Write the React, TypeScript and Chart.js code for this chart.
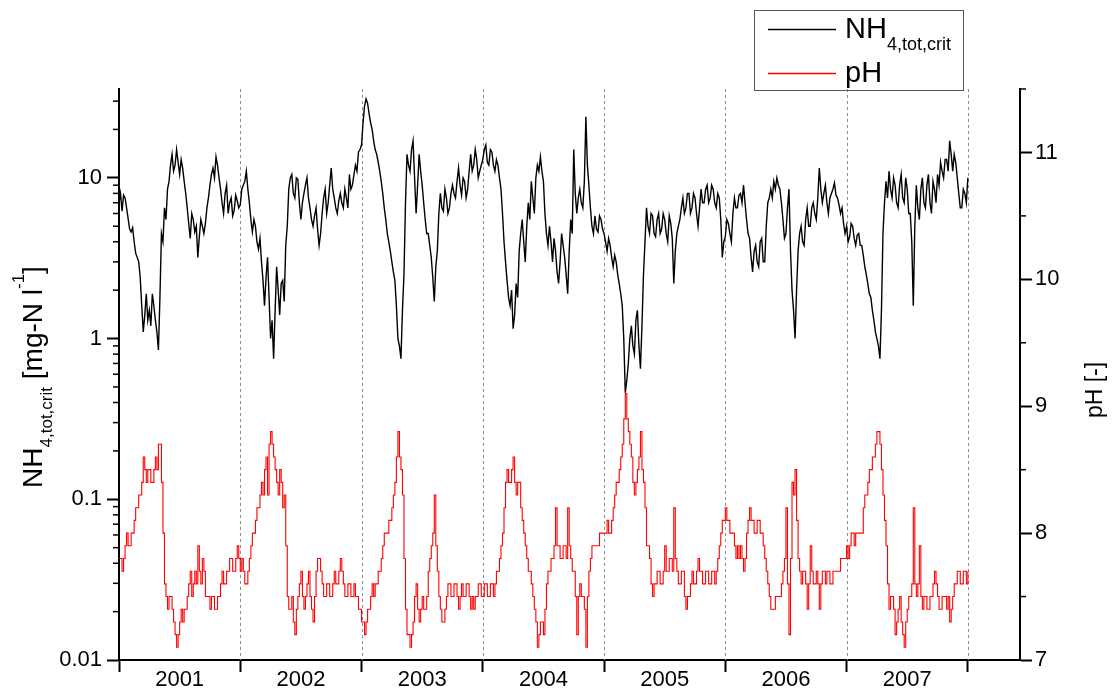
import { useEffect, useRef } from "react";
import { Chart, registerables } from "chart.js";

Chart.register(...registerables);

const FONT = "'Liberation Sans', Arial, Helvetica, sans-serif";

// Sampling: each yearly array holds values at year + i / SAMPLES_PER_YEAR
const SAMPLES_PER_YEAR = 80;
const years = [2001, 2002, 2003, 2004, 2005, 2006, 2007];
const yearLabels = ["2001", "2002", "2003", "2004", "2005", "2006", "2007"];
const yearBoundaries = [2001, 2002, 2003, 2004, 2005, 2006, 2007, 2008];

// NH4,tot,crit [mg-N/l]
const nh4_2001 = [7.0, 8.0, 6.2, 7.8, 7.5, 6.5, 5.6, 4.8, 4.6, 4.9, 4.0, 3.4, 3.2, 3.0, 2.4, 1.6, 1.1, 1.4, 1.9, 1.3, 1.5, 1.2, 1.9, 1.6, 1.3, 1.1, 0.85, 1.8, 4.5, 4.0, 6.5, 5.5, 8.5, 9.5, 12, 14, 11, 12, 15, 12.5, 10.5, 13, 11.5, 9.5, 8.0, 6.5, 5.2, 4.2, 6.0, 5.5, 4.6, 5.0, 3.2, 4.3, 5.5, 5.0, 4.5, 5.2, 6.5, 7.5, 9.0, 10.5, 11.5, 10, 13.5, 12, 10.0, 8.5, 7.0, 6.0, 8.0, 9.0, 6.0, 7.0, 7.5, 5.8, 6.3, 7.8, 7.2, 6.5];
const nh4_2002 = [6.8, 8.5, 9.0, 9.5, 11.0, 8.5, 7.0, 5.5, 4.6, 5.5, 5.0, 4.0, 3.6, 4.2, 3.0, 2.3, 1.6, 2.4, 3.2, 1.8, 1.0, 1.3, 0.75, 1.5, 2.8, 2.0, 1.4, 2.2, 2.3, 1.7, 3.8, 5.0, 8.5, 10, 10.5, 8.0, 7.5, 10, 9.8, 7.0, 5.5, 7.0, 8.0, 9.0, 10.0, 7.5, 6.5, 5.5, 5.0, 5.8, 6.5, 4.8, 3.8, 4.5, 6.0, 7.5, 8.5, 6.0, 7.0, 9.0, 11.5, 8.5, 7.5, 6.5, 6.0, 7.2, 8.0, 7.0, 6.5, 8.5, 7.5, 6.5, 10.5, 8.5, 9.0, 10.5, 12.0, 11, 14.5, 15];
const nh4_2003 = [16, 22, 28, 31, 29, 25, 22, 20, 17, 15, 14, 12.5, 11, 9.5, 8.0, 6.5, 5.5, 4.5, 4.0, 3.5, 3.0, 2.6, 2.3, 1.6, 1.0, 0.9, 0.75, 1.5, 2.5, 7.0, 14, 12, 11, 15, 17, 10, 6.0, 9.0, 14, 11, 9.0, 7.0, 5.5, 4.5, 4.5, 3.8, 3.2, 2.4, 1.7, 2.8, 3.5, 6.0, 8.0, 6.5, 6.2, 8.5, 7.5, 6.0, 6.5, 8.0, 9.0, 8.0, 7.5, 9.5, 11.5, 9.0, 7.8, 10, 9.5, 7.5, 8.5, 11, 14, 11, 12, 15, 13, 10, 11, 12];
const nh4_2004 = [13, 15, 16, 12.5, 12, 15, 14.5, 12, 11, 13, 12, 10, 8.5, 6.0, 4.0, 3.0, 2.3, 1.8, 1.6, 2.0, 1.15, 1.4, 2.2, 1.8, 3.5, 4.5, 5.5, 4.0, 3.0, 5.0, 7.0, 5.5, 9.5, 7.5, 6.0, 10, 12, 11, 13.5, 11, 9.5, 6.0, 4.5, 3.8, 5.0, 4.0, 3.0, 4.2, 3.5, 2.6, 2.2, 3.0, 4.5, 3.8, 3.2, 2.5, 1.9, 3.5, 5.5, 4.5, 15, 8.0, 6.0, 7.5, 8.5, 7.0, 6.5, 9.5, 24, 12, 9.0, 6.5, 5.0, 4.5, 5.8, 4.8, 4.6, 5.8, 5.5, 4.8];
const nh4_2005 = [4.5, 4.0, 3.5, 4.2, 3.8, 3.2, 2.8, 3.3, 3.0, 2.5, 2.2, 1.9, 1.6, 1.0, 0.46, 0.55, 0.7, 1.0, 1.2, 0.9, 0.8, 1.3, 1.5, 0.9, 0.65, 1.2, 2.5, 4.0, 6.5, 5.0, 4.5, 6.0, 5.8, 4.5, 4.3, 5.5, 6.0, 4.5, 4.8, 6.0, 5.5, 4.5, 4.0, 5.8, 5.2, 4.2, 2.2, 3.5, 4.5, 5.0, 5.5, 6.5, 7.5, 6.0, 6.5, 8.0, 8.0, 6.0, 6.5, 8.0, 7.5, 6.0, 5.0, 6.5, 8.5, 7.0, 7.0, 8.5, 9.0, 7.0, 7.5, 9.0, 8.5, 7.0, 6.5, 8.0, 7.5, 5.5, 3.2, 4.0];
const nh4_2006 = [4.3, 5.5, 5.2, 4.5, 4.0, 6.0, 7.5, 6.5, 6.5, 7.8, 8.0, 7.0, 9.0, 7.0, 5.5, 4.5, 4.2, 3.2, 2.6, 3.5, 3.8, 3.0, 2.8, 4.0, 4.2, 3.0, 3.0, 5.0, 7.0, 7.5, 8.5, 7.5, 9.5, 8.5, 10, 9.0, 8.5, 7.0, 5.5, 4.2, 4.5, 6.5, 8.5, 3.5, 2.0, 1.5, 1.0, 2.0, 3.5, 4.5, 5.0, 4.0, 3.8, 5.5, 6.5, 5.0, 5.0, 6.5, 7.0, 6.0, 5.5, 7.5, 11.5, 8.5, 7.0, 8.0, 9.0, 7.0, 6.0, 7.5, 8.0, 8.5, 9.3, 7.8, 7.5, 6.8, 6.0, 6.5, 5.2, 4.5];
const nh4_2007 = [5.0, 4.0, 4.3, 5.2, 5.0, 4.2, 3.8, 4.4, 4.5, 3.8, 3.8, 3.3, 2.8, 2.5, 2.2, 1.9, 1.8, 1.5, 1.3, 1.1, 1.0, 0.9, 0.75, 1.5, 4.5, 7.0, 9.5, 7.5, 11, 8.5, 7.5, 10, 9.0, 7.0, 6.5, 9.0, 10.5, 7.5, 7.0, 10, 8.5, 6.0, 6.0, 4.0, 1.6, 5.0, 9.0, 6.5, 5.5, 8.5, 10, 7.0, 6.5, 9.0, 10.5, 7.0, 6.0, 9.5, 8.5, 7.0, 10.5, 9.0, 12.5, 11, 10, 13, 13, 11, 17, 14, 11, 14, 12.5, 10, 8.0, 6.5, 6.5, 8.5, 8.0, 7.0, 10];

// pH [-]
const ph_2001 = [7.8, 7.8, 7.7, 7.8, 7.9, 8.0, 7.9, 7.9, 8.0, 8.0, 8.1, 8.2, 8.2, 8.3, 8.3, 8.4, 8.6, 8.5, 8.4, 8.5, 8.5, 8.4, 8.4, 8.5, 8.6, 8.5, 8.7, 8.7, 8.4, 8.0, 7.6, 7.5, 7.4, 7.5, 7.5, 7.4, 7.3, 7.2, 7.1, 7.2, 7.3, 7.4, 7.3, 7.4, 7.4, 7.5, 7.6, 7.7, 7.5, 7.6, 7.7, 7.6, 7.9, 7.7, 7.6, 7.8, 7.7, 7.5, 7.5, 7.5, 7.4, 7.5, 7.5, 7.4, 7.4, 7.5, 7.5, 7.6, 7.7, 7.6, 7.6, 7.7, 7.7, 7.8, 7.8, 7.7, 7.7, 7.8, 7.9, 7.8];
const ph_2002 = [7.7, 7.8, 7.7, 7.6, 7.6, 7.7, 7.8, 7.9, 8.0, 8.0, 8.1, 8.2, 8.2, 8.3, 8.4, 8.3, 8.5, 8.6, 8.3, 8.7, 8.8, 8.7, 8.6, 8.5, 8.4, 8.3, 8.5, 8.4, 8.2, 8.3, 7.9, 7.5, 7.4, 7.4, 7.5, 7.3, 7.2, 7.4, 7.5, 7.6, 7.7, 7.5, 7.4, 7.5, 7.6, 7.7, 7.5, 7.4, 7.3, 7.5, 7.7, 7.8, 7.8, 7.7, 7.6, 7.5, 7.5, 7.6, 7.6, 7.5, 7.5, 7.6, 7.7, 7.6, 7.6, 7.7, 7.8, 7.7, 7.6, 7.5, 7.5, 7.6, 7.6, 7.5, 7.5, 7.6, 7.5, 7.5, 7.4, 7.4];
const ph_2003 = [7.3, 7.3, 7.2, 7.3, 7.4, 7.4, 7.5, 7.6, 7.5, 7.6, 7.6, 7.7, 7.7, 7.8, 7.9, 8.0, 8.0, 8.0, 8.1, 8.1, 8.2, 8.3, 8.4, 8.6, 8.8, 8.6, 8.5, 8.3, 7.8, 7.4, 7.2, 7.2, 7.1, 7.2, 7.3, 7.5, 7.6, 7.4, 7.3, 7.4, 7.5, 7.4, 7.4, 7.5, 7.7, 7.8, 7.9, 8.0, 8.3, 7.9, 7.7, 7.5, 7.4, 7.3, 7.3, 7.4, 7.5, 7.6, 7.6, 7.5, 7.5, 7.6, 7.6, 7.5, 7.4, 7.5, 7.6, 7.5, 7.5, 7.6, 7.6, 7.5, 7.4, 7.5, 7.4, 7.5, 7.5, 7.6, 7.6, 7.5];
const ph_2004 = [7.5, 7.6, 7.6, 7.5, 7.5, 7.6, 7.6, 7.5, 7.6, 7.7, 7.7, 7.8, 7.9, 8.0, 8.2, 8.4, 8.5, 8.4, 8.4, 8.5, 8.6, 8.4, 8.3, 8.4, 8.4, 8.2, 8.1, 8.0, 7.9, 7.8, 7.7, 7.7, 7.6, 7.5, 7.4, 7.3, 7.1, 7.2, 7.3, 7.3, 7.2, 7.4, 7.6, 7.7, 7.7, 7.8, 7.8, 7.9, 8.2, 7.9, 7.9, 7.8, 7.8, 7.9, 7.9, 7.8, 8.2, 7.9, 7.8, 7.7, 7.7, 7.5, 7.2, 7.5, 7.6, 7.5, 7.5, 7.4, 7.1, 7.5, 7.7, 7.8, 7.9, 7.9, 7.9, 7.9, 7.9, 8.0, 8.0, 8.0];
const ph_2005 = [8.0, 8.0, 8.1, 8.0, 8.0, 8.1, 8.2, 8.3, 8.4, 8.4, 8.5, 8.6, 8.7, 8.9, 9.1, 8.9, 8.8, 8.7, 8.6, 8.4, 8.3, 8.4, 8.5, 8.6, 8.8, 8.5, 8.4, 8.2, 7.9, 7.9, 7.8, 7.6, 7.5, 7.6, 7.6, 7.7, 7.7, 7.6, 7.6, 7.7, 7.9, 7.7, 7.7, 7.8, 7.8, 7.7, 8.2, 7.8, 7.7, 7.6, 7.6, 7.7, 7.7, 7.5, 7.4, 7.5, 7.5, 7.6, 7.7, 7.6, 7.6, 7.7, 7.8, 7.7, 7.7, 7.6, 7.6, 7.7, 7.7, 7.6, 7.6, 7.7, 7.7, 7.6, 7.7, 7.8, 7.9, 8.0, 8.1, 8.1];
const ph_2006 = [8.2, 8.1, 8.1, 8.0, 8.0, 8.0, 7.9, 7.8, 7.9, 7.8, 7.9, 7.8, 7.7, 7.8, 8.0, 8.1, 8.2, 8.1, 8.1, 8.0, 8.0, 8.1, 8.1, 8.0, 8.0, 7.9, 7.8, 7.7, 7.6, 7.5, 7.4, 7.4, 7.4, 7.5, 7.5, 7.5, 7.5, 7.6, 7.7, 7.8, 8.2, 7.6, 7.2, 7.8, 8.4, 8.3, 8.5, 8.1, 7.8, 7.7, 7.6, 7.7, 7.7, 7.6, 7.4, 7.6, 7.9, 7.7, 7.6, 7.6, 7.7, 7.6, 7.4, 7.6, 7.7, 7.7, 7.6, 7.7, 7.7, 7.6, 7.6, 7.7, 7.7, 7.7, 7.7, 7.7, 7.8, 7.8, 7.8, 7.8];
const ph_2007 = [7.9, 7.8, 7.9, 8.0, 8.0, 7.9, 8.0, 8.0, 8.0, 8.0, 8.0, 8.2, 8.3, 8.3, 8.4, 8.5, 8.5, 8.6, 8.6, 8.7, 8.8, 8.8, 8.7, 8.5, 8.3, 8.1, 7.9, 7.6, 7.4, 7.5, 7.5, 7.4, 7.2, 7.3, 7.4, 7.5, 7.3, 7.2, 7.1, 7.3, 7.4, 7.5, 7.5, 7.6, 8.2, 7.6, 7.5, 7.6, 7.9, 7.5, 7.4, 7.5, 7.5, 7.4, 7.4, 7.5, 7.5, 7.6, 7.7, 7.6, 7.5, 7.4, 7.4, 7.5, 7.5, 7.5, 7.4, 7.5, 7.3, 7.4, 7.5, 7.6, 7.6, 7.7, 7.7, 7.6, 7.6, 7.7, 7.7, 7.6, 7.7];

// Axis ranges and ticks
const xRange = [2001, 2008.43];
const nh4Range = [0.01, 35.7];
const phRange = [7, 11.5];
const nh4MajorTicks = [0.01, 0.1, 1, 10];
const nh4MinorTicks = [0.02, 0.03, 0.04, 0.05, 0.06, 0.07, 0.08, 0.09, 0.2, 0.3, 0.4, 0.5, 0.6, 0.7, 0.8, 0.9, 2, 3, 4, 5, 6, 7, 8, 9, 20, 30];
const phMajorTicks = [7, 8, 9, 10, 11];
const phMinorTicks = [7.5, 8.5, 9.5, 10.5, 11.5];

type Pt = { x: number; y: number };

function toPoints(perYear: number[][]): Pt[] {
  const pts: Pt[] = [];
  perYear.forEach((vals, k) => {
    vals.forEach((v, i) => pts.push({ x: years[k] + i / SAMPLES_PER_YEAR, y: v }));
  });
  return pts;
}

const nh4Points = toPoints([nh4_2001, nh4_2002, nh4_2003, nh4_2004, nh4_2005, nh4_2006, nh4_2007]);
const phPoints = toPoints([ph_2001, ph_2002, ph_2003, ph_2004, ph_2005, ph_2006, ph_2007]);

// x ticks: year boundaries carry tick marks, mid-year positions carry labels
const xTickValues: number[] = [];
yearBoundaries.forEach((y, i) => {
  xTickValues.push(y);
  if (i < years.length) xTickValues.push(y + 0.5);
});

const isBoundary = (v: number) => Math.abs(v - Math.round(v)) < 1e-6;

type Run = { text: string; size: number; dy: number };

function runsWidth(ctx: CanvasRenderingContext2D, runs: Run[]) {
  let w = 0;
  for (const r of runs) {
    ctx.font = `${r.size}px ${FONT}`;
    w += ctx.measureText(r.text).width;
  }
  return w;
}

function drawRuns(ctx: CanvasRenderingContext2D, runs: Run[], x: number, y: number) {
  let cx = x;
  for (const r of runs) {
    ctx.font = `${r.size}px ${FONT}`;
    ctx.fillText(r.text, cx, y + r.dy);
    cx += ctx.measureText(r.text).width;
  }
}

const leftTitle: Run[] = [
  { text: "NH", size: 28, dy: 0 },
  { text: "4,tot,crit", size: 17, dy: 10 },
  { text: " [mg-N l", size: 28, dy: 0 },
  { text: "-1", size: 17, dy: -18 },
  { text: "]", size: 28, dy: 0 },
];
const rightTitle: Run[] = [{ text: "pH [-]", size: 23, dy: 0 }];
const legendNH4: Run[] = [
  { text: "NH", size: 29, dy: 0 },
  { text: "4,tot,crit", size: 18, dy: 12 },
];
const legendPH: Run[] = [{ text: "pH", size: 29, dy: 0 }];

const yearLinesPlugin = {
  id: "yearLines",
  beforeDatasetsDraw(chart: any) {
    const { ctx, chartArea } = chart;
    const xs = chart.scales.x;
    ctx.save();
    ctx.strokeStyle = "#8c8c8c";
    ctx.lineWidth = 1;
    ctx.setLineDash([3, 3]);
    for (const v of yearBoundaries.slice(1)) {
      const px = Math.round(xs.getPixelForValue(v)) + 0.5;
      ctx.beginPath();
      ctx.moveTo(px, chartArea.top);
      ctx.lineTo(px, chartArea.bottom);
      ctx.stroke();
    }
    ctx.restore();
  },
};

const decorPlugin = {
  id: "decor",
  afterDraw(chart: any) {
    const { ctx, chartArea } = chart;
    const yN = chart.scales.yN;
    const yP = chart.scales.yP;
    ctx.save();

    // minor ticks
    ctx.strokeStyle = "#000";
    ctx.lineWidth = 1.5;
    for (const v of nh4MinorTicks) {
      const py = yN.getPixelForValue(v);
      ctx.beginPath();
      ctx.moveTo(chartArea.left - 6, py);
      ctx.lineTo(chartArea.left, py);
      ctx.stroke();
    }
    for (const v of phMinorTicks) {
      const py = yP.getPixelForValue(v);
      ctx.beginPath();
      ctx.moveTo(chartArea.right, py);
      ctx.lineTo(chartArea.right + 6, py);
      ctx.stroke();
    }

    ctx.fillStyle = "#000";
    ctx.textBaseline = "alphabetic";
    ctx.textAlign = "left";

    // left axis title
    const lw = runsWidth(ctx, leftTitle);
    ctx.save();
    ctx.translate(42, 377 + lw / 2);
    ctx.rotate(-Math.PI / 2);
    drawRuns(ctx, leftTitle, 0, 0);
    ctx.restore();

    // right axis title
    const rw = runsWidth(ctx, rightTitle);
    ctx.save();
    ctx.translate(1102, 390 + rw / 2);
    ctx.rotate(-Math.PI / 2);
    drawRuns(ctx, rightTitle, 0, 0);
    ctx.restore();

    // legend
    ctx.strokeStyle = "#555555";
    ctx.lineWidth = 1;
    ctx.strokeRect(754.5, 10.5, 209, 80);
    ctx.lineWidth = 1.5;
    ctx.strokeStyle = "#000000";
    ctx.beginPath();
    ctx.moveTo(768, 29.5);
    ctx.lineTo(836, 29.5);
    ctx.stroke();
    ctx.strokeStyle = "#ff0000";
    ctx.beginPath();
    ctx.moveTo(768, 73.5);
    ctx.lineTo(836, 73.5);
    ctx.stroke();
    ctx.fillStyle = "#000";
    drawRuns(ctx, legendNH4, 845, 38);
    drawRuns(ctx, legendPH, 845, 82);

    ctx.restore();
  },
};

export default function App() {
  const canvasRef = useRef<HTMLCanvasElement>(null);

  useEffect(() => {
    const canvas = canvasRef.current;
    if (!canvas) return;
    const tickFont = { family: FONT, size: 22 };
    const chart = new Chart(canvas, {
      type: "line",
      data: {
        datasets: [
          {
            label: "NH4,tot,crit",
            data: nh4Points,
            yAxisID: "yN",
            borderColor: "#000000",
            borderWidth: 1.4,
            pointRadius: 0,
            tension: 0,
          },
          {
            label: "pH",
            data: phPoints,
            yAxisID: "yP",
            borderColor: "#ff0000",
            borderWidth: 1.1,
            pointRadius: 0,
            stepped: true,
          },
        ],
      },
      options: {
        responsive: false,
        animation: false,
        events: [],
        layout: { padding: { top: 89, left: 0, right: 0, bottom: 0 } },
        plugins: { legend: { display: false }, tooltip: { enabled: false } },
        scales: {
          x: {
            type: "linear",
            position: "bottom",
            min: xRange[0],
            max: xRange[1],
            afterBuildTicks: (s: any) => {
              s.ticks = xTickValues.map((v) => ({ value: v }));
            },
            afterFit: (s: any) => {
              s.height = 31;
            },
            ticks: {
              autoSkip: false,
              maxRotation: 0,
              padding: -5,
              color: "#000",
              font: tickFont,
              callback: (v: any) => {
                const n = Number(v);
                if (isBoundary(n)) return "";
                const idx = Math.floor(n) - years[0];
                return yearLabels[idx] ?? "";
              },
            },
            grid: {
              drawOnChartArea: false,
              drawTicks: true,
              tickLength: 12,
              tickWidth: 2,
              tickColor: (c: any) =>
                c.tick && isBoundary(c.tick.value) ? "#000" : "rgba(0,0,0,0)",
            },
            border: { display: true, color: "#000", width: 2 },
          },
          yN: {
            type: "logarithmic",
            position: "left",
            min: nh4Range[0],
            max: nh4Range[1],
            afterBuildTicks: (s: any) => {
              s.ticks = nh4MajorTicks.map((v) => ({ value: v }));
            },
            afterFit: (s: any) => {
              s.width = 119;
            },
            ticks: {
              autoSkip: false,
              padding: 5,
              color: "#000",
              font: tickFont,
              callback: (v: any) => String(v),
            },
            grid: {
              drawOnChartArea: false,
              drawTicks: true,
              tickLength: 12,
              tickWidth: 2,
              tickColor: "#000",
            },
            border: { display: true, color: "#000", width: 2 },
          },
          yP: {
            type: "linear",
            position: "right",
            min: phRange[0],
            max: phRange[1],
            afterBuildTicks: (s: any) => {
              s.ticks = phMajorTicks.map((v) => ({ value: v }));
            },
            afterFit: (s: any) => {
              s.width = 93;
            },
            ticks: {
              autoSkip: false,
              padding: 3,
              color: "#000",
              font: tickFont,
              callback: (v: any) => String(v),
            },
            grid: {
              drawOnChartArea: false,
              drawTicks: true,
              tickLength: 12,
              tickWidth: 2,
              tickColor: "#000",
            },
            border: { display: true, color: "#000", width: 2 },
          },
        },
      } as any,
      plugins: [yearLinesPlugin, decorPlugin],
    });
    return () => chart.destroy();
  }, []);

  return (
    <div
      style={{
        position: "fixed",
        left: 0,
        top: 0,
        width: 1113,
        height: 691,
        background: "#ffffff",
      }}
    >
      <canvas ref={canvasRef} width={1113} height={691} style={{ display: "block" }} />
    </div>
  );
}
